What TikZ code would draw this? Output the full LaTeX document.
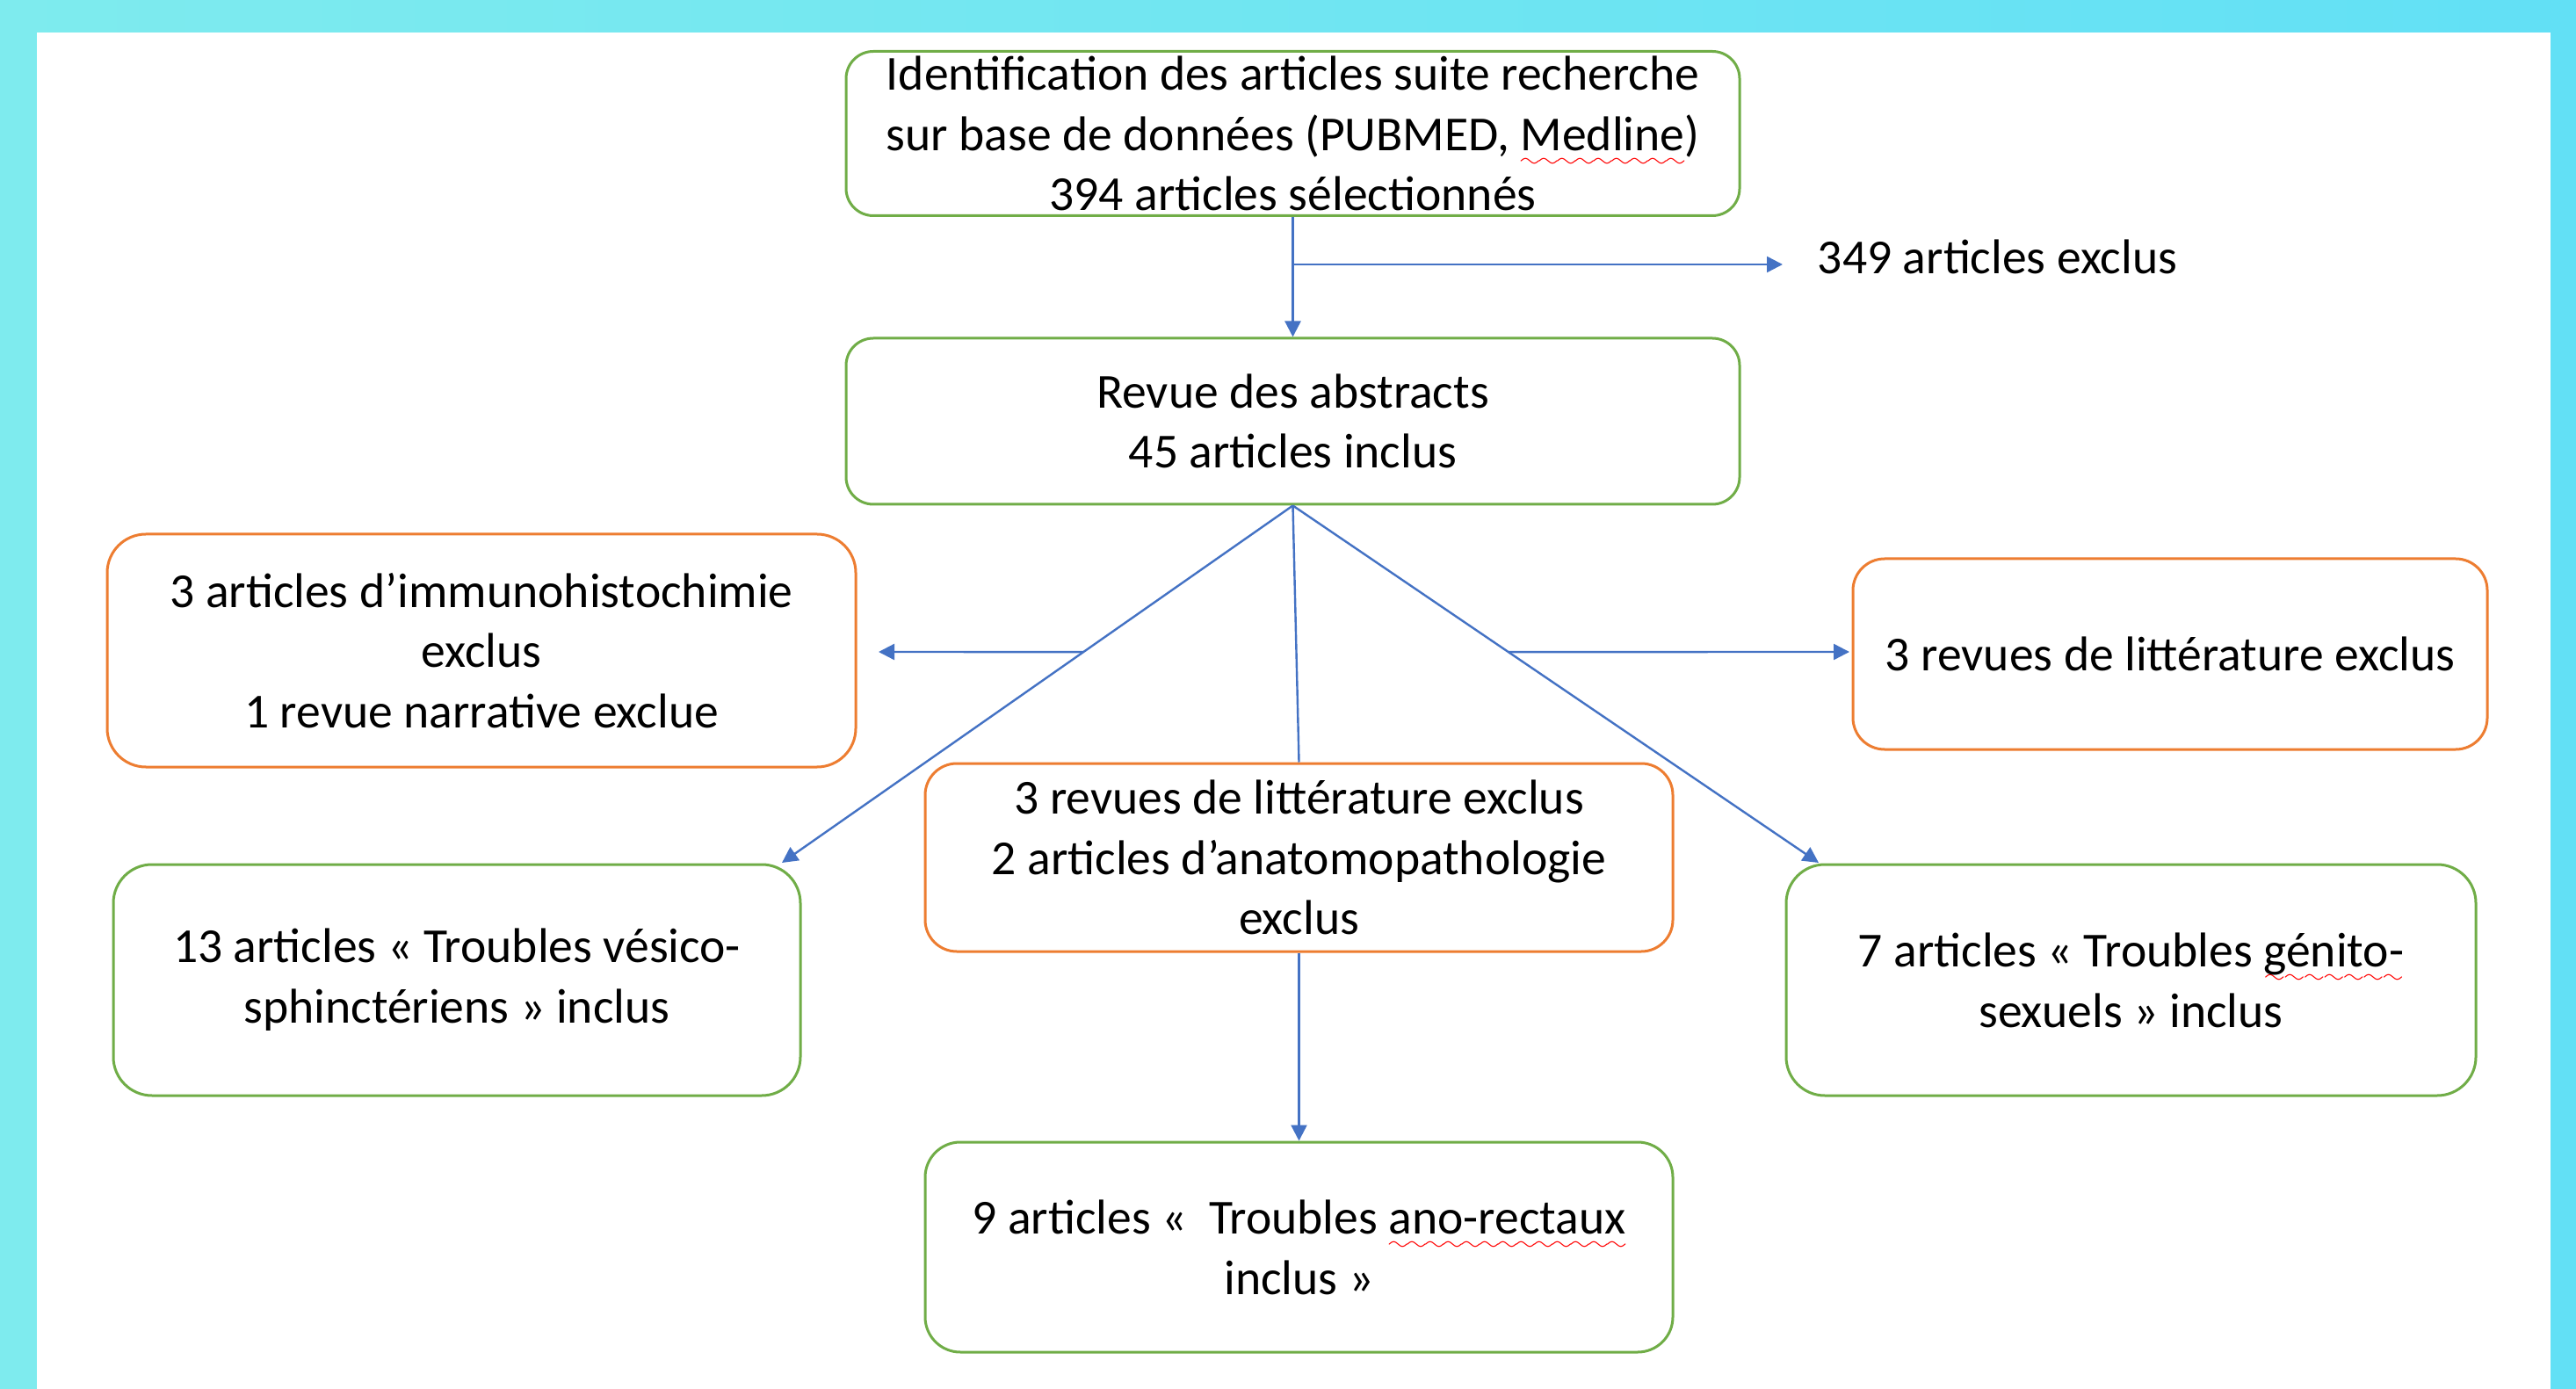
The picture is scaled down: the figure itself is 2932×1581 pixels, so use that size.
\documentclass[tikz,border=0pt]{standalone}
\usepackage{fontspec}
\setmainfont{Carlito}
\usetikzlibrary{arrows.meta,calc}
\definecolor{bgreen}{HTML}{70AD47}
\definecolor{borange}{HTML}{ED7D31}
\definecolor{bblue}{HTML}{4472C4}
\definecolor{cyanA}{HTML}{7EEBEE}
\definecolor{cyanB}{HTML}{62E0F5}
\definecolor{spellred}{HTML}{FF0000}
\font\mywavefont=lasy6
\newcommand\redwave[1]{\setbox0\hbox{#1}\rlap{\smash{\textcolor{spellred}{\lower4.5pt\hbox to\wd0{\xleaders\hbox{\mywavefont\char58}\hfil}}}}\box0}
\tikzset{
  box/.style={draw, line width=0.75pt, align=center, inner sep=0pt,
    font=\fontsize{13.9}{17.2}\selectfont},
  gbox/.style={box, draw=bgreen},
  obox/.style={box, draw=borange},
  conn/.style={draw=bblue, line width=0.6pt},
  arr/.style={conn, -{Triangle[length=4.5pt,width=4.5pt]}},
}
\begin{document}
\begin{tikzpicture}[x=0.25pt,y=-0.25pt]
\useasboundingbox (0,0) rectangle (2932,1581);
\shade[left color=cyanA, right color=cyanB] (0,0) rectangle (2932,1581);
\fill[white] (42,37) rectangle (2903,1581);

\node[gbox, minimum width=254.25pt, minimum height=46.75pt, rounded corners=7.75pt] (b1) at (1471.5,152)
  {Identification des articles suite recherche\\sur base de données (PUBMED, \redwave{Medline})\\394 articles sélectionnés};
\node[gbox, minimum width=254.25pt, minimum height=47.25pt, rounded corners=7.75pt] (b2) at (1471.5,479.5)
  {Revue des abstracts\\45 articles inclus};
\node[obox, minimum width=213pt, minimum height=66.25pt, rounded corners=11pt] (lo) at (548,740.5)
  {3 articles d’immunohistochimie\\exclus\\1 revue narrative exclue};
\node[obox, minimum width=180.5pt, minimum height=54.25pt, rounded corners=9pt] (ro) at (2470,744.5)
  {3 revues de littérature exclus};
\node[obox, minimum width=212.75pt, minimum height=53.5pt, rounded corners=9pt] (co) at (1478.5,976)
  {3 revues de littérature exclus\\2 articles d’anatomopathologie\\exclus};
\node[gbox, minimum width=195.5pt, minimum height=65.75pt, rounded corners=11pt] (lg) at (520,1115.5)
  {13 articles « Troubles vésico-\\sphinctériens » inclus};
\node[gbox, minimum width=196.25pt, minimum height=65.75pt, rounded corners=11pt] (rg) at (2425.5,1115.5)
  {7 articles « Troubles \redwave{génito-}\\sexuels » inclus};
\node[gbox, minimum width=212.75pt, minimum height=59.75pt, rounded corners=10pt] (bg) at (1478.5,1419.5)
  {9 articles «~~Troubles \redwave{ano-rectaux}\\inclus »};
\node[anchor=west, inner sep=0pt, font=\fontsize{13.9}{17.2}\selectfont] (excl) at (2068,292) {349 articles exclus};

\coordinate (split) at ($(b1.south)!0.41!(b2.north)$);
\coordinate (excltip) at (2029,301);
\coordinate (lgtip) at (890,982);
\coordinate (rgtip) at (2070,982);
\coordinate (lotip) at (1000,742);
\coordinate (rotip) at (2105,742);
\coordinate (ldiag) at ($(b2.south)!0.4099!(lgtip)$);
\coordinate (rdiag) at ($(b2.south)!0.4099!(rgtip)$);

\draw[arr] (b1.south) -- (b2.north);
\draw[arr] (split |- excltip) -- (excltip);
\draw[arr] (b2.south) -- (lgtip);
\draw[arr] (b2.south) -- (rgtip);
\draw[conn] (b2.south) -- (co.north);
\draw[arr] (co.south) -- (bg.north);
\draw[arr] (ldiag) -- (lotip);
\draw[arr] (rdiag) -- (rotip);
\end{tikzpicture}
\end{document}
